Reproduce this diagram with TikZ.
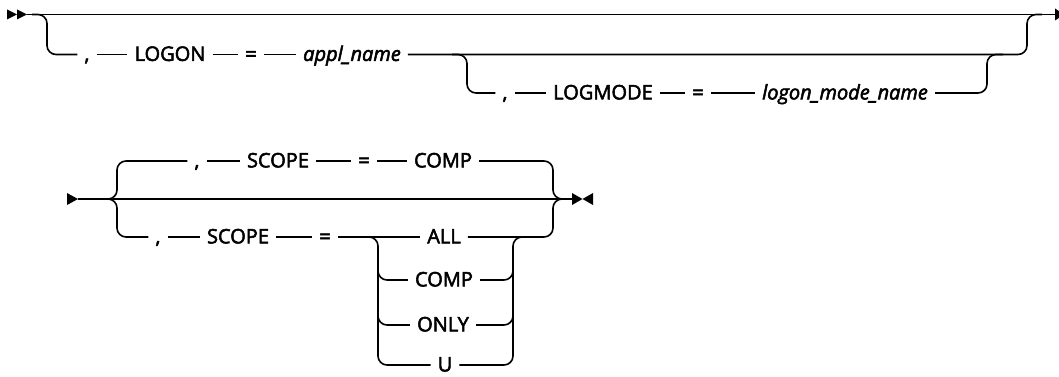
\documentclass[tikz,border=0pt]{standalone}
\usepackage{fontspec}
\setmainfont{Open Sans}[FakeBold=2.6]
\begin{document}
\begin{tikzpicture}[x=1pt,y=-1pt,
  rail/.style={line width=1.6pt, rounded corners=9pt},
  kw/.style={font=\fontsize{20}{24}\selectfont, inner xsep=7pt, inner ysep=0pt, text height=14.3pt, text depth=1.5pt},
  var/.style={kw, font=\fontsize{20}{24}\itshape\selectfont}
]
\useasboundingbox (0,0) rectangle (1059,377);
% ---------- first diagram ----------
\coordinate (s1) at (27,14.5);
\coordinate (e1) at (1055,14.5);
\coordinate (b1) at (32,14.5);
\coordinate (k1) at (47,54.5);
\coordinate (j1) at (1027,14.5);
\coordinate (j1e) at (1042,14.5);
\coordinate (b2) at (452,54.5);
\coordinate (k2) at (467,93);
\coordinate (j2) at (987,54.5);
\coordinate (j2e) at (1003,54.5);
\fill (7,9.5) -- (17,14.5) -- (7,19.5) -- cycle;
\fill (17,9.5) -- (27,14.5) -- (17,19.5) -- cycle;
\fill (1055,8.5) -- (1064,14.5) -- (1055,20.5) -- cycle;

\node[kw]  (c1)    at (87,54.5)  {,};
\node[kw]  (logon) at (170,54.5) {LOGON};
\node[kw]  (eq1)   at (251,54.5) {=};
\node[var] (appl)  at (352,54.5) {appl\_name};
\node[kw]  (c2)    at (505,93) {,};
\node[kw]  (logmode) at (603,93) {LOGMODE};
\node[kw]  (eq2)   at (698,93) {=};
\node[var] (lmn)   at (845,93) {logon\_mode\_name};

\draw[rail] (s1) -- (e1);
\draw[rail] (b1) -| (k1) -- (c1);
\draw[rail] (c1) -- (logon);
\draw[rail] (logon) -- (eq1);
\draw[rail] (eq1) -- (appl);
\draw[rail] (appl) -| (j1) -- (j1e);
\draw[rail] (b2) -| (k2) -- (c2);
\draw[rail] (c2) -- (logmode);
\draw[rail] (logmode) -- (eq2);
\draw[rail] (eq2) -- (lmn);
\draw[rail] (lmn) -| (j2) -- (j2e);

% ---------- second diagram ----------
\coordinate (s2) at (78,199);
\coordinate (e2) at (572,199);
\coordinate (b3) at (103,199);
\coordinate (k3) at (117,161);
\coordinate (k4) at (117,237);
\coordinate (j3) at (553,199);
\coordinate (j3e) at (566,199);
\coordinate (b5) at (366,237);
\coordinate (k5) at (378,365);
\coordinate (k6) at (378,268);
\coordinate (k7) at (378,312);
\coordinate (j5) at (513,237);
\coordinate (j5e) at (526,237);
\coordinate (j6) at (513,268);
\coordinate (j7) at (513,312);
\fill (67,193) -- (78,199) -- (67,205) -- cycle;
\fill (572,193) -- (582.5,199) -- (572,205) -- cycle;
\fill (593,193) -- (582.5,199) -- (593,205) -- cycle;

\node[kw] (c3)     at (197,161) {,};
\node[kw] (scope1) at (278,161) {SCOPE};
\node[kw] (eq3)    at (364,161) {=};
\node[kw] (comp1)  at (443,161) {COMP};
\node[kw] (c4)     at (158,237) {,};
\node[kw] (scope2) at (238,237) {SCOPE};
\node[kw] (eq4)    at (325,237) {=};
\node[kw] (all)    at (444,237) {ALL};
\node[kw] (comp2)  at (444,280) {COMP};
\node[kw] (only)   at (443,325) {ONLY};
\node[kw] (u)      at (445,365) {U};

\draw[rail] (s2) -- (e2);
\draw[rail] (b3) -| (k3) -- (c3);
\draw[rail] (b3) -| (k4) -- (c4);
\draw[rail] (c3) -- (scope1);
\draw[rail] (scope1) -- (eq3);
\draw[rail] (eq3) -- (comp1);
\draw[rail] (comp1) -| (j3) -- (j3e);
\draw[rail] (c4) -- (scope2);
\draw[rail] (scope2) -- (eq4);
\draw[rail] (eq4) -- (all);
\draw[rail] (all) -| (j3) -- (j3e);
\draw[rail] (b5) -| (k5) -- (u);
\draw[rail] (k6) |- (comp2);
\draw[rail] (k7) |- (only);
\draw[rail] (u) -| (j5) -- (j5e);
\draw[rail] (comp2) -| (j6);
\draw[rail] (only) -| (j7);
\end{tikzpicture}
\end{document}
